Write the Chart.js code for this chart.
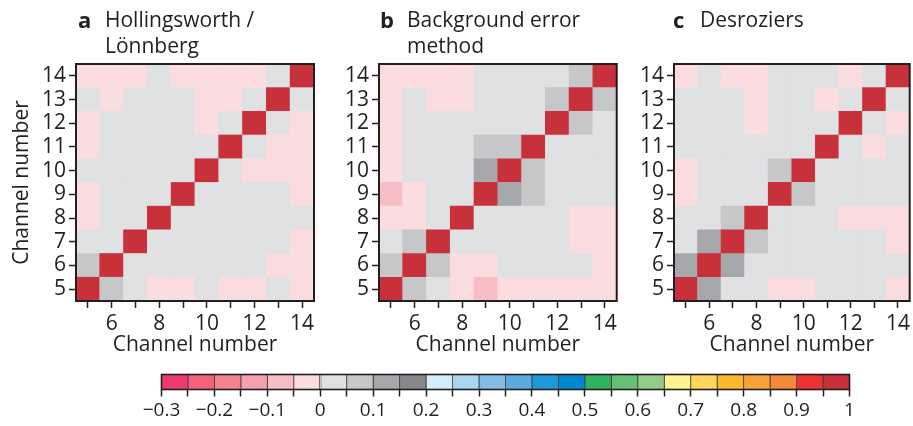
<!DOCTYPE html>
<html>
<head>
<meta charset="utf-8">
<script src="https://cdn.jsdelivr.net/npm/chart.js@4.4.0/dist/chart.umd.min.js"></script>
<style>
  html, body { margin: 0; padding: 0; background: #ffffff; }
  body { width: 913px; height: 426px; position: relative; overflow: hidden;
         font-family: "Open Sans", sans-serif; color: #231f20; }
  canvas { position: absolute; }
  .ttl { position: absolute; font-size: 21px; line-height: 26px; white-space: nowrap; }
  .ttl b { position: absolute; top: 0; font-weight: 700; font-size: 22px; }
  .ttl span { position: absolute; top: 0; }
</style>
</head>
<body>
<script>
// ---- data -------------------------------------------------------------
// Channel numbers on both axes
const channels = [5, 6, 7, 8, 9, 10, 11, 12, 13, 14];

// Correlation matrices: one row per channel (5 at the bottom → 14 at the top),
// each row lists columns for channels 5..14.
const hollingsworthLonnberg = [
  [1, 0.075, 0.025, -0.025, -0.025, 0.025, -0.025, -0.025, 0.025, -0.025],   // 5
  [0.075, 1, 0.025, 0.025, 0.025, 0.025, 0.025, 0.025, -0.025, -0.025],      // 6
  [0.025, 0.025, 1, 0.025, 0.025, 0.025, 0.025, 0.025, 0.025, -0.025],       // 7
  [-0.025, 0.025, 0.025, 1, 0.025, 0.025, 0.025, 0.025, 0.025, 0.025],       // 8
  [-0.025, 0.025, 0.025, 0.025, 1, 0.025, 0.025, 0.025, 0.025, -0.025],      // 9
  [0.025, 0.025, 0.025, 0.025, 0.025, 1, 0.025, -0.025, -0.025, -0.025],     // 10
  [-0.025, 0.025, 0.025, 0.025, 0.025, 0.025, 1, 0.025, -0.025, -0.025],     // 11
  [-0.025, 0.025, 0.025, 0.025, 0.025, -0.025, 0.025, 1, 0.025, -0.025],     // 12
  [0.025, -0.025, 0.025, 0.025, 0.025, -0.025, -0.025, 0.025, 1, 0.025],     // 13
  [-0.025, -0.025, -0.025, 0.025, -0.025, -0.025, -0.025, -0.025, 0.025, 1]  // 14
];

const backgroundErrorMethod = [
  [1, 0.075, 0.025, -0.025, -0.075, -0.025, -0.025, -0.025, -0.025, -0.025], // 5
  [0.075, 1, 0.075, -0.025, -0.025, 0.025, 0.025, 0.025, 0.025, -0.025],     // 6
  [0.025, 0.075, 1, 0.025, 0.025, 0.025, 0.025, 0.025, -0.025, -0.025],      // 7
  [-0.025, -0.025, 0.025, 1, 0.025, 0.025, 0.025, 0.025, -0.025, -0.025],    // 8
  [-0.075, -0.025, 0.025, 0.025, 1, 0.125, 0.075, 0.025, 0.025, 0.025],      // 9
  [-0.025, 0.025, 0.025, 0.025, 0.125, 1, 0.075, 0.025, 0.025, 0.025],       // 10
  [-0.025, 0.025, 0.025, 0.025, 0.075, 0.075, 1, 0.025, 0.025, 0.025],       // 11
  [-0.025, 0.025, 0.025, 0.025, 0.025, 0.025, 0.025, 1, 0.075, 0.025],       // 12
  [-0.025, 0.025, -0.025, -0.025, 0.025, 0.025, 0.025, 0.075, 1, 0.075],     // 13
  [-0.025, -0.025, -0.025, -0.025, 0.025, 0.025, 0.025, 0.025, 0.075, 1]     // 14
];

const desroziers = [
  [1, 0.125, 0.025, 0.025, -0.025, -0.025, 0.025, 0.025, 0.025, -0.025],     // 5
  [0.125, 1, 0.125, 0.025, 0.025, 0.025, 0.025, 0.025, 0.025, 0.025],        // 6
  [0.025, 0.125, 1, 0.075, 0.025, 0.025, 0.025, 0.025, 0.025, -0.025],       // 7
  [0.025, 0.025, 0.075, 1, 0.025, 0.025, 0.025, -0.025, -0.025, -0.025],     // 8
  [-0.025, 0.025, 0.025, 0.025, 1, 0.075, 0.025, 0.025, 0.025, 0.025],       // 9
  [-0.025, 0.025, 0.025, 0.025, 0.075, 1, 0.025, 0.025, 0.025, 0.025],       // 10
  [0.025, 0.025, 0.025, 0.025, 0.025, 0.025, 1, 0.025, -0.025, 0.025],       // 11
  [0.025, 0.025, 0.025, -0.025, 0.025, 0.025, 0.025, 1, 0.025, -0.025],      // 12
  [0.025, 0.025, 0.025, -0.025, 0.025, 0.025, -0.025, 0.025, 1, 0.025],      // 13
  [-0.025, 0.025, -0.025, -0.025, 0.025, 0.025, 0.025, -0.025, 0.025, 1]     // 14
];

// Panel letters and headings
const panelLetters = ['a', 'b', 'c'];
const panelTitles = [['Hollingsworth /', 'Lönnberg'], ['Background error', 'method'], ['Desroziers']];
const axisTitle = 'Channel number';

// Colour scale: bin edges and one colour per bin
const binEdges = [-0.3, -0.25, -0.2, -0.15, -0.1, -0.05, 0, 0.05, 0.1, 0.15, 0.2, 0.25, 0.3,
                  0.35, 0.4, 0.45, 0.5, 0.55, 0.6, 0.65, 0.7, 0.75, 0.8, 0.85, 0.9, 0.95, 1];
const binColors = ['#ee3a6e', '#f1627f', '#f3828f', '#f5a1aa', '#f8bec5', '#fbdcdf',
                   '#e0e1e3', '#c6c7c9', '#a6a7aa', '#87888b',
                   '#d3edfb', '#a8d5f0', '#83bde6', '#5baadf', '#1f99d8', '#0088ce',
                   '#2fb261', '#66bf74', '#93cc89', '#fff48f', '#fed65a', '#fdb72b',
                   '#f9a13b', '#f6883b', '#ee3135', '#c9313a'];

// ---- helpers ------------------------------------------------------------
const INK = '#231f20';
Chart.defaults.font.family = '"Open Sans", sans-serif';
Chart.defaults.color = INK;

function colorFor(v) {
  for (let i = 0; i < binColors.length; i++) {
    if (v < binEdges[i + 1]) return binColors[i];
  }
  return binColors[binColors.length - 1];
}

// Frame drawn round the plotting area
const framePlugin = {
  id: 'frame',
  afterDatasetsDraw(chart, args, opts) {
    const a = chart.chartArea, ctx = chart.ctx;
    ctx.save();
    ctx.strokeStyle = INK;
    ctx.lineWidth = opts.width || 2;
    ctx.strokeRect(a.left, a.top, a.right - a.left, a.bottom - a.top);
    ctx.restore();
  }
};

function addCanvas(left, top, width, height) {
  const c = document.createElement('canvas');
  c.style.left = left + 'px';
  c.style.top = top + 'px';
  c.style.width = width + 'px';
  c.style.height = height + 'px';
  c.width = width;
  c.height = height;
  document.body.appendChild(c);
  return c;
}

// Layout of the three panels (canvas placement and axis widths)
const panelBoxes = [
  { left: 0,   width: 320, yAxisWidth: 76, padRight: 6,   showYTitle: true,  titleX: 78 },
  { left: 322, width: 298, yAxisWidth: 57, padRight: 3,   showYTitle: false, titleX: 380 },
  { left: 616, width: 297, yAxisWidth: 58, padRight: 1.5, showYTitle: false, titleX: 673 }
];
const matrices = [hollingsworthLonnberg, backgroundErrorMethod, desroziers];

function drawPanel(k) {
  const box = panelBoxes[k];
  const matrix = matrices[k];
  const canvas = addCanvas(box.left, 0, box.width, 360);

  const datasets = channels.map((ch, r) => ({
    label: 'channel ' + ch,
    data: channels.map(() => [ch - 0.5, ch + 0.5]),
    backgroundColor: matrix[r].map(colorFor),
    borderWidth: 0,
    inflateAmount: 0.4,
    barPercentage: 1,
    categoryPercentage: 1,
    grouped: false
  }));

  new Chart(canvas, {
    type: 'bar',
    data: { labels: channels.map(String), datasets },
    plugins: [framePlugin],
    options: {
      responsive: false,
      animation: false,
      events: [],
      layout: { padding: { top: 64, right: box.padRight, left: 0, bottom: 0 } },
      plugins: { legend: { display: false }, tooltip: { enabled: false }, frame: { width: 2 } },
      scales: {
        x: {
          type: 'category',
          offset: true,
          grid: { offset: false, drawOnChartArea: false, drawTicks: true, tickLength: 7,
                  tickWidth: 1.5, tickColor: INK },
          border: { display: false },
          ticks: {
            autoSkip: false, maxRotation: 0, padding: 3,
            font: { size: 21 }, color: INK,
            callback(value) {
              const ch = Number(this.getLabelForValue(value));
              return ch % 2 === 0 ? String(ch) : '';
            }
          },
          title: { display: true, text: axisTitle, font: { size: 21 }, color: INK,
                   padding: { top: 0, bottom: 2 } },
          afterFit(scale) { scale.height = 59; }
        },
        y: {
          type: 'linear',
          min: channels[0] - 0.5,
          max: channels[channels.length - 1] + 0.5,
          afterBuildTicks(scale) { scale.ticks = channels.map(v => ({ value: v })); },
          grid: { drawOnChartArea: false, drawTicks: true, tickLength: 7,
                  tickWidth: 1.5, tickColor: INK },
          border: { display: false },
          ticks: { autoSkip: false, padding: 3, font: { size: 21 }, color: INK,
                   callback: (v) => String(v) },
          title: { display: box.showYTitle, text: axisTitle, font: { size: 21 }, color: INK,
                   padding: { top: 9, bottom: 0 } },
          afterFit(scale) { scale.width = box.yAxisWidth; }
        }
      }
    }
  });

  // Panel heading as page text
  const t = document.createElement('div');
  t.className = 'ttl';
  t.style.left = box.titleX + 'px';
  t.style.top = '6px';
  const b = document.createElement('b');
  b.textContent = panelLetters[k];
  b.style.left = '0px';
  t.appendChild(b);
  panelTitles[k].forEach((line, i) => {
    const s = document.createElement('span');
    s.textContent = line;
    s.style.left = '27px';
    s.style.top = (i * 26) + 'px';
    t.appendChild(s);
  });
  document.body.appendChild(t);
}

function drawColorbar() {
  const canvas = addCanvas(110, 362, 800, 64);
  const datasets = binColors.map((col, i) => ({
    label: 'bin ' + i,
    data: [[binEdges[i], binEdges[i + 1]]],
    backgroundColor: col,
    borderColor: '#3a3a3c',
    borderWidth: 0.8,
    borderSkipped: false,
    barPercentage: 1,
    categoryPercentage: 1,
    grouped: false
  }));

  new Chart(canvas, {
    type: 'bar',
    data: { labels: [''], datasets },
    plugins: [framePlugin],
    options: {
      indexAxis: 'y',
      responsive: false,
      animation: false,
      events: [],
      layout: { padding: { top: 12.5, left: 51.5, right: 60.5, bottom: 0 } },
      plugins: { legend: { display: false }, tooltip: { enabled: false }, frame: { width: 1.6 } },
      scales: {
        y: { type: 'category', display: false, offset: true },
        x: {
          type: 'linear',
          min: binEdges[0],
          max: binEdges[binEdges.length - 1],
          afterBuildTicks(scale) { scale.ticks = binEdges.map(v => ({ value: v })); },
          grid: { drawOnChartArea: false, drawTicks: true, tickLength: 7,
                  tickWidth: 1.5, tickColor: INK },
          border: { display: false },
          ticks: {
            autoSkip: false, maxRotation: 0, padding: 3,
            font: { size: 19 }, color: INK,
            callback(v) {
              const tenths = v * 10;
              if (Math.abs(tenths - Math.round(tenths)) > 1e-6) return '';
              const r = Math.round(tenths) / 10;
              if (r === 0) return '0';
              if (r === 1) return '1';
              return r < 0 ? '\u2212' + Math.abs(r).toFixed(1) : r.toFixed(1);
            }
          },
          afterFit(scale) { scale.height = 36.5; }
        }
      }
    }
  });
}

[0, 1, 2].forEach(drawPanel);
drawColorbar();
</script>
</body>
</html>
